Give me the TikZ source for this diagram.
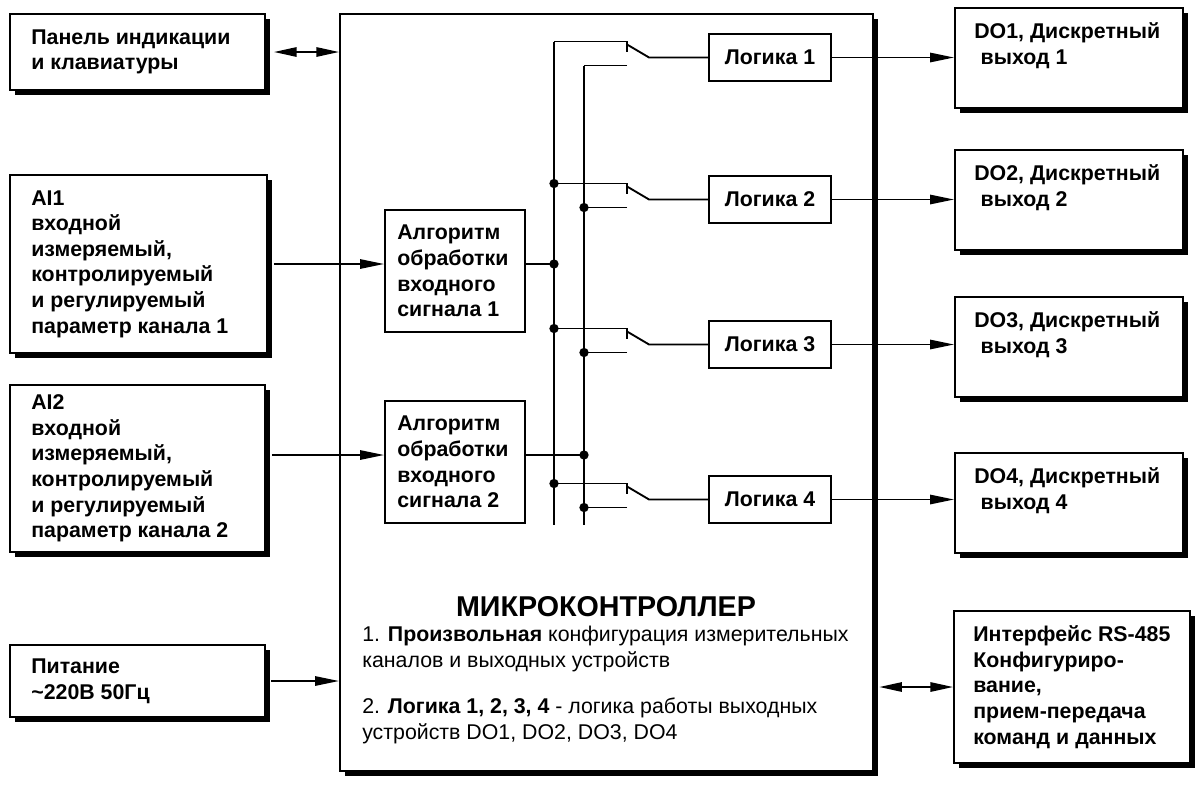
\documentclass[tikz,border=0pt]{standalone}
\usepackage{fontspec}
\setmainfont{Liberation Sans}
\usetikzlibrary{arrows.meta,fit,shadows}

\tikzset{
  box/.style={draw, line width=1.4pt, fill=white, inner sep=0pt},
  shbox/.style={box, drop shadow={shadow xshift=3.8pt, shadow yshift=-3.8pt, fill=black, opacity=1}},
  txt/.style={font=\bfseries\fontsize{16}{19.2}\selectfont, align=left, inner sep=0pt},
  wire/.style={line width=1.4pt},
  arr/.style={wire, -{Triangle[length=18pt, width=7pt]}},
  dblarr/.style={wire, {Triangle[length=17pt, width=7pt]}-{Triangle[length=17pt, width=7pt]}},
  dot/.style={circle, fill, inner sep=0pt, minimum size=7pt},
  logic/.style={box, txt, minimum width=91.5pt, minimum height=35.25pt}
}

\begin{document}
\begin{tikzpicture}[x=0.75pt, y=-0.75pt]
\useasboundingbox (0,0) rectangle (1196,794);

% microcontroller
\node[shbox, fit={(340,14) (873,771)}] (mc) {};
\node[font=\bfseries\fontsize{21.5}{25}\selectfont] (title) at (606,607) {МИКРОКОНТРОЛЛЕР};
\node[anchor=north west, align=left, inner sep=0pt, font=\fontsize{16}{19.5}\selectfont] (notes) at (362,626)
  {1. \textbf{Произвольная} конфигурация измерительных\\каналов и выходных устройств\\[15pt]
   2. \textbf{Логика 1, 2, 3, 4} - логика работы выходных\\устройств DO1, DO2, DO3, DO4};

% left side
\node[shbox, fit={(10,14) (265,90)},
  label={[txt, anchor=west, xshift=16.5pt]west:Панель индикации\\и клавиатуры}] (panel) {};
\node[shbox, fit={(10,175) (267,353)},
  label={[txt, anchor=west, xshift=16.5pt]west:AI1\\входной\\измеряемый,\\контролируемый\\и регулируемый\\параметр канала 1}] (ai1) {};
\node[shbox, fit={(10,385) (265,552)},
  label={[txt, anchor=west, xshift=16.5pt]west:AI2\\входной\\измеряемый,\\контролируемый\\и регулируемый\\параметр канала 2}] (ai2) {};
\node[shbox, fit={(10,645) (265,717)},
  label={[txt, anchor=west, xshift=16.5pt]west:Питание\\\textasciitilde220В 50Гц}] (pit) {};

% processing
\node[box, fit={(385,210) (525,332)},
  label={[txt, anchor=west, xshift=9.75pt]west:Алгоритм\\обработки\\входного\\сигнала 1}] (alg1) {};
\node[box, fit={(385,401) (525,523)},
  label={[txt, anchor=west, xshift=9.75pt]west:Алгоритм\\обработки\\входного\\сигнала 2}] (alg2) {};

\node[logic] (lg1) at (770,57.5) {Логика 1};
\node[logic] (lg2) at (770,199.5) {Логика 2};
\node[logic] (lg3) at (770,344.5) {Логика 3};
\node[logic] (lg4) at (770,499.5) {Логика 4};

% outputs
\foreach \i/\t in {1/8, 2/150, 3/297, 4/453}
  \node[shbox, fit={(955,\t) (1183,\t+100)},
    label={[txt, anchor=north west, xshift=15pt, yshift=-11.5pt]north west:DO\i, Дискретный\\\hspace*{.3em}выход \i}] (do\i) {};
\node[shbox, fit={(954,611) (1190,763)},
  label={[txt, anchor=west, xshift=15pt]west:Интерфейс RS-485\\Конфигуриро-\\вание,\\прием-передача\\команд и данных}] (rs) {};

% buses and switches
\coordinate (abot) at (554,525);
\coordinate (bbot) at (584,525);
\foreach \i in {1,...,4}{
  \draw[wire] (lg\i.west) -- ++(-59,0) coordinate (piv\i) -- ++(-22,-13) coordinate (tip\i);
  \draw[wire] (tip\i) ++(0,7) -- ++(0,-10) coordinate (up\i) -- (up\i -| abot);
  \draw[wire] (piv\i) ++(-22,8) coordinate (dn\i) -- (dn\i -| bbot);
}
\draw[wire] (up1 -| abot) -- (abot);
\draw[wire] (dn1 -| bbot) -- (bbot);
\foreach \i in {2,3,4}{
  \node[dot] (ja\i) at (up\i -| abot) {};
  \node[dot] (jb\i) at (dn\i -| bbot) {};
}
\draw[wire] ([yshift=5.25pt]alg1.east) -- ([yshift=5.25pt]alg1.east -| abot) node[dot] (j1) {};
\draw[wire] ([yshift=5.25pt]alg2.east) -- ([yshift=5.25pt]alg2.east -| bbot) node[dot] (j2) {};

% connections
\draw[dblarr] ([xshift=6pt]panel.east) -- (panel.east -| mc.west);
\draw[arr] ([yshift=5.25pt]alg1.west -| ai1.east) ++(6,0) -- ([yshift=5.25pt]alg1.west);
\draw[arr] ([yshift=5.25pt]alg2.west -| ai2.east) ++(6,0) -- ([yshift=5.25pt]alg2.west);
\draw[arr] ([xshift=4pt]pit.east) -- (pit.east -| mc.west);
\foreach \i in {1,...,4}
  \draw[arr] (lg\i.east) -- (lg\i.east -| do\i.west);
\draw[dblarr] ([xshift=4pt]mc.east |- rs.west) -- (rs.west);
\end{tikzpicture}
\end{document}
